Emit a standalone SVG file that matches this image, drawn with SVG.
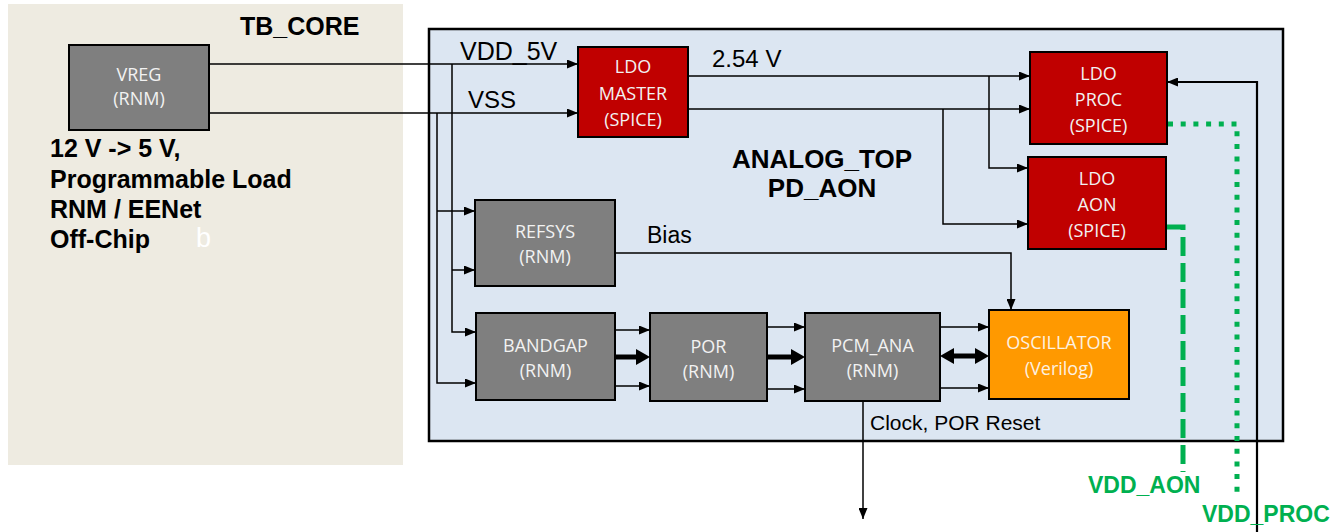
<svg xmlns="http://www.w3.org/2000/svg" width="1330" height="532" viewBox="0 0 1330 532">
<style>
.lbl{font-family:"Liberation Sans",Arial,sans-serif;fill:#000}
.b{font-weight:bold}
.nt{font-family:"Open Sans","Noto Sans",sans-serif;font-size:18px;text-anchor:middle;fill:#F2F2F2}
.gray{fill:#7F7F7F;stroke:#000;stroke-width:2}
.red{fill:#C00000;stroke:#000;stroke-width:2}
.orange{fill:#FF9900;stroke:#000;stroke-width:2}
.w{fill:none;stroke:#000;stroke-width:1.5}
.wk{fill:none;stroke:#000;stroke-width:5}
.green{font-family:"Liberation Sans",Arial,sans-serif;font-weight:bold;font-size:23px;fill:#00B050}
</style>
<defs>
<marker id="a" viewBox="0 0 11 9" refX="11" refY="4.5" markerWidth="11" markerHeight="9" markerUnits="userSpaceOnUse" orient="auto">
<path d="M0,0 L11,4.5 L0,9 z" fill="#000"/>
</marker>
<marker id="ak" viewBox="0 0 14 16" refX="0" refY="8" markerWidth="14" markerHeight="16" markerUnits="userSpaceOnUse" orient="auto-start-reverse">
<path d="M0,0 L14,8 L0,16 z" fill="#000"/>
</marker>
</defs>
<rect x="0" y="0" width="1330" height="532" fill="#FFFFFF"/>
<g id="tb_core">
<rect x="8" y="4" width="395" height="461" fill="#EEEBE1"/>
<text class="lbl b" x="240" y="35" font-size="25">TB_CORE</text>
<text class="lbl b" font-size="25"><tspan x="50" y="157">12 V -&gt; 5 V,</tspan><tspan x="50" y="188">Programmable Load</tspan><tspan x="50" y="218">RNM / EENet</tspan><tspan x="50" y="248">Off-Chip</tspan></text>
<text x="196" y="247" font-family="Liberation Sans,Arial,sans-serif" font-size="27" fill="#FFFFFF">b</text>
</g>
<g id="analog_top">
<rect x="429" y="29" width="854" height="412" fill="#DCE6F2" stroke="#000" stroke-width="2.5"/>
<text class="lbl b" x="822" y="168" font-size="26" text-anchor="middle">ANALOG_TOP</text>
<text class="lbl b" x="822" y="197" font-size="26" text-anchor="middle">PD_AON</text>
</g>
<g id="connectors">
<path class="w" d="M209,64 H578" marker-end="url(#a)"/>
<path class="w" d="M209,113 H578" marker-end="url(#a)"/>
<path class="w" d="M452,64 V332 H476" marker-end="url(#a)"/>
<path class="w" d="M452,270 H475" marker-end="url(#a)"/>
<path class="w" d="M437,113 V383 H476" marker-end="url(#a)"/>
<path class="w" d="M437,211 H475" marker-end="url(#a)"/>
<path class="w" d="M688,76 H1030" marker-end="url(#a)"/>
<path class="w" d="M989,76 V168 H1028" marker-end="url(#a)"/>
<path class="w" d="M688,109 H1030" marker-end="url(#a)"/>
<path class="w" d="M943,109 V224 H1028" marker-end="url(#a)"/>
<path class="w" d="M615,253 H1011 V310" marker-end="url(#a)"/>
<path class="w" d="M615,330 H650" marker-end="url(#a)"/>
<path class="wk" d="M615,357 H636" marker-end="url(#ak)"/>
<path class="w" d="M615,386 H650" marker-end="url(#a)"/>
<path class="w" d="M767,327 H805" marker-end="url(#a)"/>
<path class="wk" d="M767,357 H791" marker-end="url(#ak)"/>
<path class="w" d="M767,389 H805" marker-end="url(#a)"/>
<path class="w" d="M940,327 H989" marker-end="url(#a)"/>
<path class="wk" d="M954,356 H975" marker-start="url(#ak)" marker-end="url(#ak)"/>
<path class="w" d="M940,388 H989" marker-end="url(#a)"/>
<path class="w" d="M863,401 V519" stroke-width="2" marker-end="url(#a)"/>
<path fill="none" stroke="#000" stroke-width="2.2" d="M1257,532 V82 H1167" marker-end="url(#a)"/>
<path fill="none" stroke="#00B050" stroke-width="5" stroke-dasharray="5 7.7" d="M1168,124 H1237 V495"/>
<path fill="none" stroke="#00B050" stroke-width="5" stroke-dasharray="19 7" d="M1167,227 H1183 V472"/>
<text class="lbl" x="460" y="60" font-size="25">VDD_5V</text>
<text class="lbl" x="468" y="108" font-size="24">VSS</text>
<text class="lbl" x="712" y="67" font-size="24">2.54 V</text>
<text class="lbl" x="647" y="243" font-size="23">Bias</text>
<text class="lbl" x="870" y="430" font-size="21">Clock, POR Reset</text>
<text class="green" x="1088" y="493">VDD_AON</text>
<text class="green" x="1202" y="522">VDD_PROC</text>
</g>
<g id="vreg">
<rect class="gray" x="69" y="45" width="140" height="85"/>
<text class="nt" x="139" y="81" font-size="16">VREG</text>
<text class="nt" x="139" y="105" font-size="16">(RNM)</text>
</g>
<g id="ldo_master">
<rect class="red" x="578" y="47" width="110" height="90"/>
<text class="nt" x="633" y="73">LDO</text>
<text class="nt" x="633" y="99.5">MASTER</text>
<text class="nt" x="633" y="126">(SPICE)</text>
</g>
<g id="ldo_proc">
<rect class="red" x="1030" y="52" width="137" height="92"/>
<text class="nt" x="1098.5" y="80">LDO</text>
<text class="nt" x="1098.5" y="106">PROC</text>
<text class="nt" x="1098.5" y="132">(SPICE)</text>
</g>
<g id="ldo_aon">
<rect class="red" x="1028" y="157" width="138" height="92"/>
<text class="nt" x="1097" y="185">LDO</text>
<text class="nt" x="1097" y="211">AON</text>
<text class="nt" x="1097" y="237">(SPICE)</text>
</g>
<g id="refsys">
<rect class="gray" x="475" y="200" width="140" height="86"/>
<text class="nt" x="545" y="238">REFSYS</text>
<text class="nt" x="545" y="263">(RNM)</text>
</g>
<g id="bandgap">
<rect class="gray" x="476" y="313" width="139" height="87"/>
<text class="nt" x="545.5" y="352">BANDGAP</text>
<text class="nt" x="545.5" y="377">(RNM)</text>
</g>
<g id="por">
<rect class="gray" x="650" y="313" width="117" height="88"/>
<text class="nt" x="708.5" y="353">POR</text>
<text class="nt" x="708.5" y="378">(RNM)</text>
</g>
<g id="pcm_ana">
<rect class="gray" x="805" y="313" width="135" height="88"/>
<text class="nt" x="872.5" y="352">PCM_ANA</text>
<text class="nt" x="872.5" y="377">(RNM)</text>
</g>
<g id="oscillator">
<rect class="orange" x="989" y="310" width="140" height="89"/>
<text class="nt" x="1059" y="349" style="fill:#FDF1E1">OSCILLATOR</text>
<text class="nt" x="1059" y="375" style="fill:#FDF1E1">(Verilog)</text>
</g>
</svg>
